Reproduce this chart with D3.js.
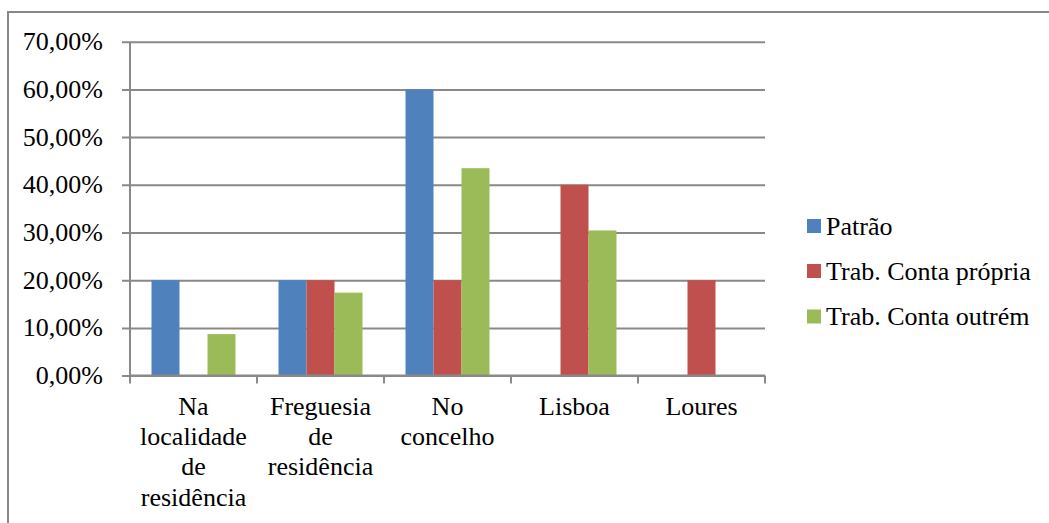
<!DOCTYPE html>
<html><head><meta charset="utf-8">
<script src="https://cdn.jsdelivr.net/npm/d3@7"></script>
<style>
html,body{margin:0;padding:0;background:#fff;}
svg{display:block;}
</style></head>
<body><svg id="c" width="1049" height="523"></svg>
<script>
const categories = ["Na localidade de residência", "Freguesia de residência", "No concelho", "Lisboa", "Loures"];
const seriesNames = ["Patrão", "Trab. Conta própria", "Trab. Conta outrém"];
const patrao = [20, 20, 60, 0, 0];
const contaPropria = [0, 20, 20, 40, 20];
const contaOutrem = [8.70, 17.39, 43.48, 30.43, 0];
const yTicks = [0, 10, 20, 30, 40, 50, 60, 70];
const colors = ["#4F81BD", "#C0504D", "#9BBB59"];

(function () {
const seriesValues = [patrao, contaPropria, contaOutrem];
const FONT = "'Liberation Serif', 'Times New Roman', Times, serif";
const svg = d3.select("#c").style("font-family", FONT);
const pLeft = 130, pRight = 765, pTop = 41.7, pBottom = 375.6;
const fs = 26;
const gridColor = "#898989";

// outer frame
svg.append("path").attr("d", "M8,523 V12 H1049").attr("fill","none").attr("stroke","#888").attr("stroke-width",2);

const x0 = d3.scaleBand().domain(categories).range([pLeft, pRight]).paddingInner(0).paddingOuter(0);
const x1 = d3.scaleBand().domain(seriesNames).range([21.5, x0.bandwidth() - 21.5]).padding(0);
const y = d3.scaleLinear().domain([0, 70]).range([pBottom, pTop]);

// gridlines + y ticks
const yAxis = d3.axisLeft(y).tickValues(yTicks).tickSize(8).tickFormat(d => d.toFixed(2).replace(".", ",") + "%");
const gy = svg.append("g").attr("transform", `translate(${pLeft},0)`).call(yAxis);
gy.attr("font-family", FONT).attr("font-size", fs);
gy.select(".domain").attr("stroke", gridColor).attr("stroke-width", 2).attr("d", `M0,${pTop}V${pBottom}`);
gy.selectAll(".tick line").attr("stroke", gridColor).attr("stroke-width", 2).attr("x1", -8).attr("x2", pRight - pLeft);
gy.selectAll(".tick text").attr("x", -27).attr("dy", null)
  .attr("y", 8).style("font-size", fs + "px").style("font-family", FONT).attr("fill", "#000");

// bars
const groups = svg.append("g").selectAll("g").data(categories).join("g")
  .attr("transform", d => `translate(${x0(d)},0)`);
groups.selectAll("rect").data((c, i) => seriesNames.map((s, j) => ({s, v: seriesValues[j][i], j})))
  .join("rect")
  .attr("x", d => x1(d.s)).attr("width", x1.bandwidth())
  .attr("y", d => y(d.v)).attr("height", d => y(0) - y(d.v))
  .attr("fill", d => colors[d.j]);

// x axis
const xAxis = d3.axisBottom(x0).tickSize(0).tickFormat("");
const gx = svg.append("g").attr("transform", `translate(0,${pBottom})`).call(xAxis);
gx.select(".domain").attr("stroke", gridColor).attr("stroke-width", 2).attr("d", `M${pLeft},0H${pRight}`);
const edges = categories.map(c => x0(c)).concat([pRight]);
gx.selectAll("line.edge").data(edges).join("line").attr("class","edge")
  .attr("x1", d => d).attr("x2", d => d).attr("y1", 0).attr("y2", 8)
  .attr("stroke", gridColor).attr("stroke-width", 2);

// wrapped category labels
function wrapWords(text, maxW) {
  const meas = svg.append("text").style("font-size", fs + "px").style("font-family", FONT);
  const words = text.split(" ");
  const lines = []; let cur = "";
  words.forEach(w => {
    const t = cur ? cur + " " + w : w;
    meas.text(t);
    if (cur && meas.node().getComputedTextLength() > maxW) { lines.push(cur); cur = w; }
    else cur = t;
  });
  if (cur) lines.push(cur);
  meas.remove();
  return lines;
}
categories.forEach(c => {
  const lines = wrapWords(c, 122);
  const t = svg.append("text").attr("text-anchor", "middle").style("font-size", fs + "px").style("font-family", FONT).attr("fill", "#000");
  lines.forEach((l, i) => t.append("tspan").attr("x", x0(c) + x0.bandwidth() / 2).attr("y", 415 + i * 30.2).style("font-family", FONT).text(l));
});

// legend
const legendY = [226, 271, 316.5];
const lg = svg.append("g");
seriesNames.forEach((s, i) => {
  lg.append("rect").attr("x", 807).attr("y", legendY[i] - 7).attr("width", 14).attr("height", 14).attr("fill", colors[i]);
  lg.append("text").attr("x", 826).attr("y", legendY[i] + 8.5).style("font-size", fs + "px").style("font-family", FONT).attr("fill", "#000").text(s);
});
})();
</script>
</body></html>
